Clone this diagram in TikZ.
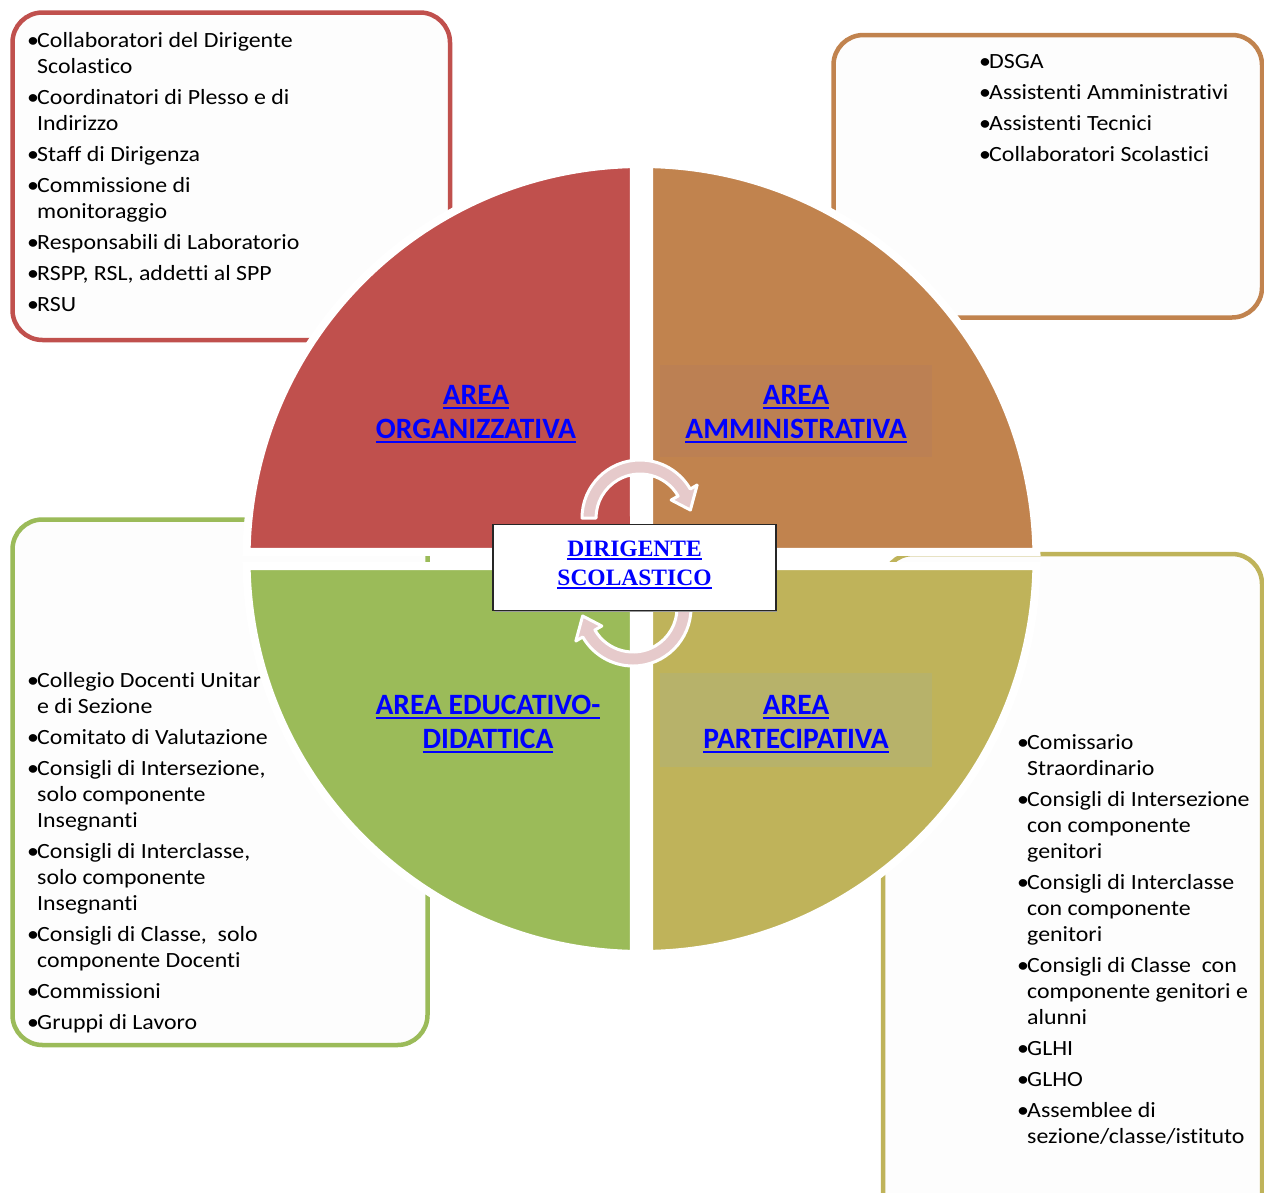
\documentclass[tikz,border=0pt]{standalone}
\usepackage{fontspec}
\setmainfont{Carlito}
\newfontfamily\boxfont{Carlito}[FakeStretch=1.1, Ligatures=NoCommon, RawFeature=-liga]
\newfontfamily\labfont{Carlito}[Ligatures=NoCommon, RawFeature=-liga]
\newfontfamily\dirfont{Liberation Serif}
\definecolor{qred}{RGB}{192,80,77}
\definecolor{qorange}{RGB}{193,131,78}
\definecolor{qgreen}{RGB}{155,187,89}
\definecolor{qolive}{RGB}{191,179,90}
\definecolor{laborange}{RGB}{188,128,83}
\definecolor{labolive}{RGB}{183,178,106}
\definecolor{arrpink}{RGB}{230,202,203}
\definecolor{boxfill}{RGB}{253,253,253}
\newcommand\bl{\makebox[10pt][l]{•}}
\newcommand\ind{\hspace*{10pt}}
\newcommand\myul[3]{\setbox0=\hbox{#1}\rlap{\rule[-#2]{\wd0}{#3}}\box0}
\tikzset{
  listbox/.style={line width=4.5pt, rounded corners=30pt, fill=boxfill},
  quad/.style={draw=white, line width=8pt, line join=miter},
  listtxt/.style={anchor=north west, inner sep=0pt, align=left, text=black,
    font=\boxfont\fontsize{21.7}{26}\selectfont},
  areatxt/.style={anchor=north, inner sep=0pt, align=center, text=blue,
    font=\labfont\bfseries\fontsize{29.5}{34}\selectfont},
  arrw/.style={fill=arrpink, draw=white, line width=3pt, line join=round},
}
\begin{document}
\begin{tikzpicture}[x=1pt,y=-1pt]
\useasboundingbox (0,0) rectangle (1264,1192);
\fill[white] (0,0) rectangle (1264,1192);
\clip (0,0) rectangle (1264,1192);
% outer list boxes
\draw[listbox, draw=qred] (12.5,12.5) rectangle (450,340);
\draw[listbox, draw=qorange] (833.5,35) rectangle (1262,317.5);
\draw[listbox, draw=qgreen] (12.5,519.5) rectangle (427.5,1045);
\draw[listbox, draw=qolive] (883,554) rectangle (1262,1240);
% list texts
\node[listtxt] (redlist) at (27,31) {\rule{0pt}{16pt}\bl Collaboratori del Dirigente\\
\ind Scolastico\\[5pt]
\bl Coordinatori di Plesso e di\\
\ind Indirizzo\\[5pt]
\bl Staff di Dirigenza\\[5pt]
\bl Commissione di\\
\ind monitoraggio\\[5pt]
\bl Responsabili di Laboratorio\\[5pt]
\bl RSPP, RSL, addetti al SPP\\[5pt]
\bl RSU};
\node[listtxt] (orangelist) at (979,52) {\rule{0pt}{16pt}\bl DSGA\\[5pt]
\bl Assistenti Amministrativi\\[5pt]
\bl Assistenti Tecnici\\[5pt]
\bl Collaboratori Scolastici};
\node[listtxt] (greenlist) at (27,671) {\rule{0pt}{16pt}\bl Collegio Docenti Unitar\\
\ind e di Sezione\\[5pt]
\bl Comitato di Valutazione\\[5pt]
\bl Consigli di Intersezione,\\
\ind solo componente\\
\ind Insegnanti\\[5pt]
\bl Consigli di Interclasse,\\
\ind solo componente\\
\ind Insegnanti\\[5pt]
\bl Consigli di Classe, \ solo\\
\ind componente Docenti\\[5pt]
\bl Commissioni\\[5pt]
\bl Gruppi di Lavoro};
\node[listtxt] (olivelist) at (1017,733) {\rule{0pt}{16pt}\bl Comissario\\
\ind Straordinario\\[5pt]
\bl Consigli di Intersezione\\
\ind con componente\\
\ind genitori\\[5pt]
\bl Consigli di Interclasse\\
\ind con componente\\
\ind genitori\\[5pt]
\bl Consigli di Classe \ con\\
\ind componente genitori e\\
\ind alunni\\[5pt]
\bl GLHI\\[5pt]
\bl GLHO\\[5pt]
\bl Assemblee di\\
\ind sezione/classe/istituto};
% quadrants
\coordinate (O) at (641.5,559);
\path[quad, fill=qred] (634,552) -- ([shift={(181.05:395)}]O) arc[start angle=181.05, end angle=268.9, radius=395] -- cycle;
\path[quad, fill=qorange] (649,552) -- ([shift={(271.1:395)}]O) arc[start angle=271.1, end angle=358.95, radius=395] -- cycle;
\path[quad, fill=qolive] (649,566) -- ([shift={(1.05:395)}]O) arc[start angle=1.05, end angle=88.9, radius=395] -- cycle;
\path[quad, fill=qgreen] (634,566) -- ([shift={(91.1:395)}]O) arc[start angle=91.1, end angle=178.95, radius=395] -- cycle;
% label backgrounds
\fill[laborange] (660,365) rectangle (932,457);
\fill[labolive] (660,673) rectangle (932,767);
% area labels
\node[areatxt] (aorg) at (476,382) {\rule{0pt}{22pt}\myul{AREA}{5pt}{2.5pt}\\\myul{ORGANIZZATIVA}{5pt}{2.5pt}};
\node[areatxt] (aamm) at (796,382) {\rule{0pt}{22pt}\myul{AREA}{5pt}{2.5pt}\\\myul{AMMINISTRATIVA}{5pt}{2.5pt}};
\node[areatxt] (aedu) at (488,692) {\rule{0pt}{22pt}\myul{AREA EDUCATIVO-}{5pt}{2.5pt}\\\myul{DIDATTICA}{5pt}{2.5pt}};
\node[areatxt] (apar) at (796,692) {\rule{0pt}{22pt}\myul{AREA}{5pt}{2.5pt}\\\myul{PARTECIPATIVA}{5pt}{2.5pt}};
% circular arrows
\coordinate (A) at (640,518);
\coordinate (B) at (633,608);
\path[arrw] ([shift={(180:58)}]A) arc[start angle=180, end angle=330, radius=58]
  -- ([shift={(330:66)}]A) -- ([shift={(351:51)}]A) -- ([shift={(330:36)}]A)
  -- ([shift={(330:44)}]A) arc[start angle=330, end angle=180, radius=44] -- cycle;
\path[arrw] ([shift={(0:58)}]B) arc[start angle=0, end angle=150, radius=58]
  -- ([shift={(150:66)}]B) -- ([shift={(171:51)}]B) -- ([shift={(150:36)}]B)
  -- ([shift={(150:44)}]B) arc[start angle=150, end angle=0, radius=44] -- cycle;
% central box
\fill[black!40] (494.5,526) rectangle (777,612);
\node[draw=black!85, line width=1.3pt, fill=white, minimum width=283pt, minimum height=86pt,
  inner sep=0pt] (dir) at (634.5,567.5) {};
\node[inner sep=0pt, align=center, text=blue, font=\dirfont\bfseries\fontsize{23.5}{29}\selectfont]
  (dirtxt) at (634.5,565) {\myul{DIRIGENTE}{3.5pt}{2pt}\\\myul{SCOLASTICO}{3.5pt}{2pt}};
\end{tikzpicture}
\end{document}
